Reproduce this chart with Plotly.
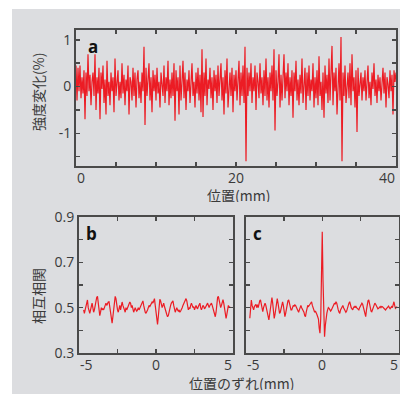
import numpy as np
import plotly.graph_objects as go

# ---------------- data ----------------
# panel a: intensity change (%) vs position (mm), step 0.125 mm from 0
a_step = 0.125
a_vals = [
    0.45, -0.3, 0.4, -0.1, 0.45, -0.25, 0.2, -0.15, 0.35, -0.7, 0.3, -0.2, 0.69, -0.1, 0.25, -0.4,
    0.1, 0.3, -0.2, 0.69, -0.5, 0.2, -0.15, 0.4, -0.7, 0.3, -0.05, 0.45, -0.35, 0.15, -0.6, 0.55,
    -0.2, 0.1, -0.4, 0.3, -0.1, 0.2, -0.55, 0.6, -0.2, 0.05, 0.35, -0.3, 0.1, -0.25, 0.5, -0.15,
    0.25, -0.4, 0.15, -0.1, 0.45, -0.6, 0.2, 0.1, -0.3, 0.4, -0.2, 0.3, -0.45, 0.15, 0.35, -0.25,
    0.1, -0.35, 0.3, -0.1, 0.85, -0.82, 0.4, -0.2, 0.15, 0.5, -0.3, 0.2, -0.55, 0.35, -0.1, 0.25,
    -0.3, 0.4, -0.15, 0.1, -0.45, 0.3, 0.05, -0.2, 0.45, -0.35, 0.2, -0.1, 0.55, -0.4, 0.15, -0.25,
    0.3, -0.2, 0.5, -0.73, 0.35, -0.1, 0.2, -0.6, 0.45, -0.3, 0.1, 0.55, -0.25, 0.3, -0.5, 0.15,
    -0.1, 0.35, -0.35, 0.2, 0.5, -0.2, 0.1, -0.45, 0.3, -0.15, 0.4, -0.3, 0.25, -0.55, 0.8, -0.65,
    0.3, -0.2, 0.6, -0.4, 0.15, -0.05, 0.4, -0.25, 0.2, -0.5, 0.35, -0.1, 0.25, -0.35, 0.45, -0.2,
    0.1, 0.5, -0.3, 0.2, -0.6, 0.35, -0.15, 0.6, -0.45, 0.1, 0.3, -0.2, 0.4, -0.55, 0.25, -0.1,
    0.35, -0.3, 0.15, 0.55, -0.4, 0.3, -0.2, 0.45, -0.35, 0.85, -1.6, 0.4, -0.2, 0.3, -0.1, 0.5,
    -0.35, 0.2, -0.1, 0.45, -0.5, 0.3, 0.1, -0.25, 0.5, -0.15, 0.2, -0.4, 0.35, -0.2, 0.6, -0.3,
    0.2, -0.45, 0.3, -0.1, 0.45, -0.3, 0.8, -0.94, 0.35, -0.2, 0.1, 0.69, -0.45, 0.25, -0.3, 0.15,
    0.69, -0.25, 0.3, -0.1, 0.5, -0.4, 0.2, -0.2, 0.35, -0.67, 0.3, -0.1, 0.55, -0.3, 0.15, -0.4,
    0.25, -0.15, 0.6, -0.35, 0.1, 0.4, -0.5, 0.3, -0.2, 0.45, -0.3, 0.15, -0.1, 0.5, -0.45, 0.2,
    -0.25, 0.35, -0.4, 0.65, -0.2, 0.1, -0.5, 0.3, -0.67, 0.45, -0.15, 0.25, -0.35, 0.6, -0.3, 0.2,
    0.87, -0.4, 0.3, -0.1, 0.4, -0.6, 0.25, 0.5, -0.3, 1.06, -1.6, 0.3, -0.2, 0.45, -0.35, 0.15,
    0.3, -0.25, 0.5, -0.4, 0.69, -0.1, 0.2, -0.45, 0.35, -0.97, 0.4, -0.2, 0.1, 0.3, -0.3, 0.2,
    -0.1, 0.35, -0.3, 0.15, 0.45, -0.25, 0.1, -0.4, 0.3, -0.05, 0.5, -0.2, 0.15, -0.35, 0.25, -0.1,
    0.2, -0.3, 0.1, 0.4, -0.15, 0.3, -0.45, 0.2, 0.05, -0.25, 0.35, -0.1, 0.25, -0.6, 0.35, 0.1,
    0.3,
]

# panel b: cross-correlation vs shift (mm)
b_x0, b_step = -4.7, 0.05
b_vals = [
    0.49, 0.475, 0.49, 0.51, 0.53, 0.534, 0.50, 0.48, 0.475, 0.49, 0.505, 0.52, 0.50, 0.48, 0.49, 0.51, 0.53, 0.545, 0.55, 0.51,
    0.47, 0.465, 0.48, 0.50, 0.49, 0.495, 0.49, 0.50, 0.515, 0.52, 0.51, 0.52, 0.525, 0.526, 0.50, 0.47, 0.45, 0.432, 0.46, 0.50,
    0.53, 0.55, 0.54, 0.51, 0.49, 0.48, 0.50, 0.51, 0.49, 0.51, 0.525, 0.51, 0.495, 0.49, 0.48, 0.50, 0.49, 0.50, 0.51, 0.52,
    0.525, 0.52, 0.50, 0.51, 0.495, 0.48, 0.49, 0.50, 0.49, 0.485, 0.49, 0.50, 0.49, 0.50, 0.505, 0.51, 0.52, 0.53, 0.51, 0.49,
    0.48, 0.475, 0.48, 0.49, 0.50, 0.51, 0.505, 0.51, 0.52, 0.525, 0.52, 0.53, 0.54, 0.51, 0.47, 0.44, 0.426, 0.46, 0.51, 0.537,
    0.53, 0.51, 0.50, 0.51, 0.52, 0.505, 0.49, 0.48, 0.47, 0.46, 0.465, 0.48, 0.50, 0.51, 0.52, 0.525, 0.53, 0.51, 0.49, 0.48,
    0.49, 0.50, 0.49, 0.485, 0.49, 0.48, 0.485, 0.49, 0.50, 0.51, 0.52, 0.53, 0.535, 0.54, 0.53, 0.50, 0.49, 0.50, 0.495, 0.51,
    0.52, 0.51, 0.50, 0.505, 0.49, 0.50, 0.51, 0.50, 0.495, 0.505, 0.51, 0.52, 0.50, 0.49, 0.50, 0.51, 0.505, 0.495, 0.50, 0.51,
    0.515, 0.52, 0.51, 0.50, 0.51, 0.52, 0.52, 0.51, 0.50, 0.49, 0.47, 0.46, 0.48, 0.52, 0.545, 0.55, 0.53, 0.505, 0.50, 0.51,
    0.53, 0.535, 0.52, 0.49, 0.46, 0.453, 0.47, 0.50, 0.51, 0.50, 0.505,
]

# panel c: cross-correlation vs shift (mm)
c_x0, c_step = -4.75, 0.05
c_vals = [
    0.453, 0.49, 0.534, 0.51, 0.50, 0.49, 0.505, 0.51, 0.515, 0.50, 0.513, 0.50, 0.52, 0.53, 0.534, 0.51, 0.49, 0.482, 0.50, 0.51,
    0.52, 0.51, 0.49, 0.47, 0.455, 0.446, 0.47, 0.50, 0.53, 0.545, 0.52, 0.48, 0.453, 0.47, 0.50, 0.53, 0.54, 0.52, 0.49, 0.475,
    0.48, 0.50, 0.515, 0.526, 0.51, 0.48, 0.46, 0.475, 0.50, 0.52, 0.53, 0.534, 0.52, 0.50, 0.49, 0.49, 0.50, 0.51, 0.505, 0.512,
    0.51, 0.50, 0.49, 0.48, 0.48, 0.49, 0.50, 0.51, 0.50, 0.495, 0.49, 0.48, 0.465, 0.46, 0.48, 0.50, 0.51, 0.505, 0.51, 0.52,
    0.52, 0.526, 0.51, 0.50, 0.49, 0.48, 0.485, 0.48, 0.47, 0.46, 0.45, 0.41, 0.387, 0.45, 0.62, 0.835, 0.62, 0.42, 0.372, 0.42,
    0.46, 0.475, 0.49, 0.50, 0.497, 0.49, 0.485, 0.49, 0.50, 0.505, 0.51, 0.52, 0.515, 0.526, 0.52, 0.50, 0.49, 0.48, 0.475, 0.49,
    0.50, 0.505, 0.51, 0.50, 0.49, 0.485, 0.48, 0.485, 0.50, 0.51, 0.52, 0.526, 0.51, 0.50, 0.495, 0.49, 0.50, 0.505, 0.50, 0.507,
    0.50, 0.495, 0.49, 0.49, 0.50, 0.51, 0.515, 0.52, 0.515, 0.50, 0.48, 0.465, 0.46, 0.49, 0.52, 0.53, 0.534, 0.51, 0.49, 0.485,
    0.482, 0.49, 0.50, 0.51, 0.52, 0.515, 0.505, 0.50, 0.495, 0.497, 0.50, 0.505, 0.50, 0.505, 0.504, 0.50, 0.495, 0.49, 0.49, 0.495,
    0.50, 0.505, 0.507, 0.50, 0.495, 0.50, 0.505, 0.50, 0.515, 0.526, 0.51, 0.497, 0.50, 0.505,
]

# tick positions / labels (x-axis labels are drawn as annotations anchored at the
# tick values so the edge labels can sit inside the frame, as in the original)
a_xticks = [0, 5, 10, 15, 20, 25, 30, 35, 40]
a_xlabels = [(0, "0", "left"), (20, "20", "center"), (40, "40", "right")]
a_yticks = [-1.5, -1, -0.5, 0, 0.5, 1]
a_ytext = ["", "-1", "", "0", "", "1"]
bc_xticks = [-5, -2.5, 0, 2.5, 5]
bc_xlabels = [(-5, "-5", "left"), (0, "0", "center"), (5, "5", "right")]
bc_yticks = [0.3, 0.4, 0.5, 0.6, 0.7, 0.8, 0.9]
bc_ytext = ["0.3", "", "0.5", "", "0.7", "", "0.9"]

a_x = np.round(np.arange(len(a_vals)) * a_step, 4)
b_x = np.round(b_x0 + np.arange(len(b_vals)) * b_step, 4)
c_x = np.round(c_x0 + np.arange(len(c_vals)) * c_step, 4)

# ---------------- style ----------------
W, H = 400, 394
RED = "#ec1c24"
AX = "#4a4a4a"
BG = "#dcdde0"
NUM_FONT = dict(family="Open Sans, Noto Sans, sans-serif", size=14, color="#3a3a3a")
JP = "Noto Sans CJK JP"


def fx(p):
    return p / W


def fy(p):
    return 1 - p / H


fig = go.Figure()
line = dict(color=RED, width=1.2)
fig.add_trace(go.Scatter(x=a_x, y=a_vals, mode="lines", line=line, xaxis="x", yaxis="y",
                         showlegend=False, hoverinfo="skip"))
fig.add_trace(go.Scatter(x=b_x, y=b_vals, mode="lines", line=line, xaxis="x2", yaxis="y2",
                         showlegend=False, hoverinfo="skip"))
fig.add_trace(go.Scatter(x=c_x, y=c_vals, mode="lines", line=line, xaxis="x3", yaxis="y3",
                         showlegend=False, hoverinfo="skip"))

common = dict(showline=True, linecolor=AX, linewidth=2, mirror="ticks", ticks="inside",
              ticklen=4, tickwidth=1.5, tickcolor=AX, showgrid=False, zeroline=False,
              tickfont=NUM_FONT, tickmode="array", fixedrange=True, automargin=False)

fig.update_layout(
    template="none",
    width=W, height=H,
    margin=dict(l=0, r=0, t=0, b=0, pad=0, autoexpand=False),
    paper_bgcolor="white",
    plot_bgcolor="rgba(0,0,0,0)",
    xaxis=dict(domain=[fx(76), fx(396)], range=[0, 40], anchor="y",
               tickvals=a_xticks, showticklabels=False, **common),
    yaxis=dict(domain=[fy(166), fy(30)], range=[-1.7, 1.21], anchor="x",
               tickvals=a_yticks, ticktext=a_ytext, **common),
    xaxis2=dict(domain=[fx(79), fx(233)], range=[-5, 5], anchor="y2",
                tickvals=bc_xticks, showticklabels=False, **common),
    yaxis2=dict(domain=[fy(353), fy(217)], range=[0.3, 0.9], anchor="x2",
                tickvals=bc_yticks, ticktext=bc_ytext, **common),
    xaxis3=dict(domain=[fx(246), fx(398.5)], range=[-5, 5], anchor="y3",
                tickvals=bc_xticks, showticklabels=False, **common),
    yaxis3=dict(domain=[fy(353), fy(217)], range=[0.3, 0.9], anchor="x3",
                tickvals=bc_yticks, ticktext=bc_ytext, showticklabels=False, **common),
    shapes=[dict(type="rect", xref="paper", yref="paper", x0=fx(12), x1=1, y0=0, y1=fy(9),
                 fillcolor=BG, line=dict(width=0), layer="below")],
    hovermode=False,
)

ann = []
for ref, label in (("x", "a"), ("x2", "b"), ("x3", "c")):
    yref = ref.replace("x", "y")
    ann.append(dict(text="<b>%s</b>" % label, xref=ref + " domain", yref=yref + " domain",
                    x=0.03, y=0.98, xanchor="left", yanchor="top", showarrow=False,
                    font=dict(family="Open Sans, sans-serif", size=17, color="#111")))

# x-axis tick labels
for ref, labels in (("x", a_xlabels), ("x2", bc_xlabels), ("x3", bc_xlabels)):
    yref = ref.replace("x", "y") + " domain"
    for xv, txt, anc in labels:
        ann.append(dict(text=txt, xref=ref, x=xv, yref=yref, y=0, xanchor=anc,
                        yanchor="top", yshift=-1, showarrow=False, font=NUM_FONT,
                        borderpad=0))

title_font = dict(family=JP, size=14, color="#3a3a3a")
centered = dict(xref="paper", yref="paper", xanchor="center", yanchor="middle",
                showarrow=False, font=title_font, borderpad=0)
ann += [
    dict(text="位置(mm)", x=fx(238), y=fy(195), height=14, **centered),
    dict(text="強度変化(%)", x=fx(38), y=fy(92), textangle=-90, **centered),
    dict(text="相互相関", x=fx(38), y=fy(296), textangle=-90, **centered),
    dict(text="位置のずれ(mm)", x=fx(241), y=fy(383), height=14, **centered),
]
fig.update_layout(annotations=ann)

fig.write_html("out.html", config={"displayModeBar": False, "staticPlot": True},
               post_script="document.body.style.margin='0';document.body.style.padding='0';"
                           "document.documentElement.style.overflow='hidden';")
